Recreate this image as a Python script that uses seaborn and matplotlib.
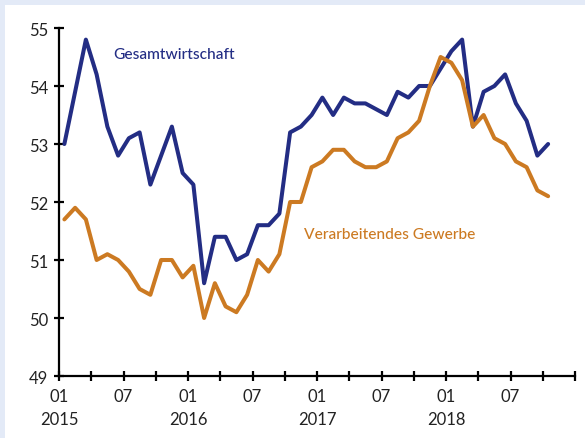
import numpy as np
import pandas as pd
import matplotlib.pyplot as plt
import seaborn as sns

# monthly values, Jan 2015 - Oct 2018
gesamt = [53.0, 53.9, 54.8, 54.2, 53.3, 52.8, 53.1, 53.2, 52.3, 52.8, 53.3, 52.5,
          52.3, 50.6, 51.4, 51.4, 51.0, 51.1, 51.6, 51.6, 51.8, 53.2, 53.3, 53.5,
          53.8, 53.5, 53.8, 53.7, 53.7, 53.6, 53.5, 53.9, 53.8, 54.0, 54.0, 54.3,
          54.6, 54.8, 53.3, 53.9, 54.0, 54.2, 53.7, 53.4, 52.8, 53.0]
verarb = [51.7, 51.9, 51.7, 51.0, 51.1, 51.0, 50.8, 50.5, 50.4, 51.0, 51.0, 50.7,
          50.9, 50.0, 50.6, 50.2, 50.1, 50.4, 51.0, 50.8, 51.1, 52.0, 52.0, 52.6,
          52.7, 52.9, 52.9, 52.7, 52.6, 52.6, 52.7, 53.1, 53.2, 53.4, 54.0, 54.5,
          54.4, 54.1, 53.3, 53.5, 53.1, 53.0, 52.7, 52.6, 52.2, 52.1]
years = ["2015", "2016", "2017", "2018"]

blue = "#232d84"
orange = "#cc7a22"

# plot at mid-month
month = np.arange(len(gesamt)) + 0.5
df = pd.DataFrame({"month": month, "Gesamtwirtschaft": gesamt,
                   "Verarbeitendes Gewerbe": verarb})

sns.set_style("ticks")
plt.rcParams["font.family"] = ["Lato", "DejaVu Sans"]

fig = plt.figure(figsize=(5.85, 4.39), dpi=100, facecolor="#e3eaf7")
# white panel behind the axes
fig.patches.append(plt.Rectangle((5 / 585, 0), 1, 1 - 6 / 439, transform=fig.transFigure,
                                 facecolor="white", edgecolor="none", zorder=-5))
ax = fig.add_axes([59 / 585, 62 / 439, 516 / 585, 348 / 439])
ax.set_facecolor("none")

sns.lineplot(data=df, x="month", y="Gesamtwirtschaft", color=blue, lw=2.9, ax=ax)
sns.lineplot(data=df, x="month", y="Verarbeitendes Gewerbe", color=orange, lw=2.9, ax=ax)

ax.set_xlim(0, 48)
ax.set_ylim(49, 55)
ax.set_yticks(range(49, 56))

ticks = np.arange(0, 49, 3)
labels = []
for t in ticks:
    if t % 12 == 0 and t // 12 < len(years):
        labels.append("01\n" + years[t // 12])
    elif t % 12 == 6:
        labels.append("07")
    else:
        labels.append("")
ax.set_xticks(ticks)
ax.set_xticklabels(labels, linespacing=1.5)

for s in ["top", "right"]:
    ax.spines[s].set_visible(False)
for s in ["left", "bottom"]:
    ax.spines[s].set_linewidth(1.6)
    ax.spines[s].set_color("black")
ax.tick_params(axis="both", direction="inout", length=7.5, width=1.6, color="black",
               labelsize=12, labelcolor="#222222", bottom=True, left=True)
ax.tick_params(axis="y", pad=4)
ax.tick_params(axis="x", pad=5)
ax.set_xlabel("")
ax.set_ylabel("")

ax.text(5.0, 54.55, "Gesamtwirtschaft", color=blue, fontsize=11.2, va="center",
        fontweight="medium")
ax.text(22.8, 51.45, "Verarbeitendes Gewerbe", color=orange, fontsize=11.2, va="center",
        fontweight="medium")

fig.savefig("out.png", dpi=100, facecolor=fig.get_facecolor())
